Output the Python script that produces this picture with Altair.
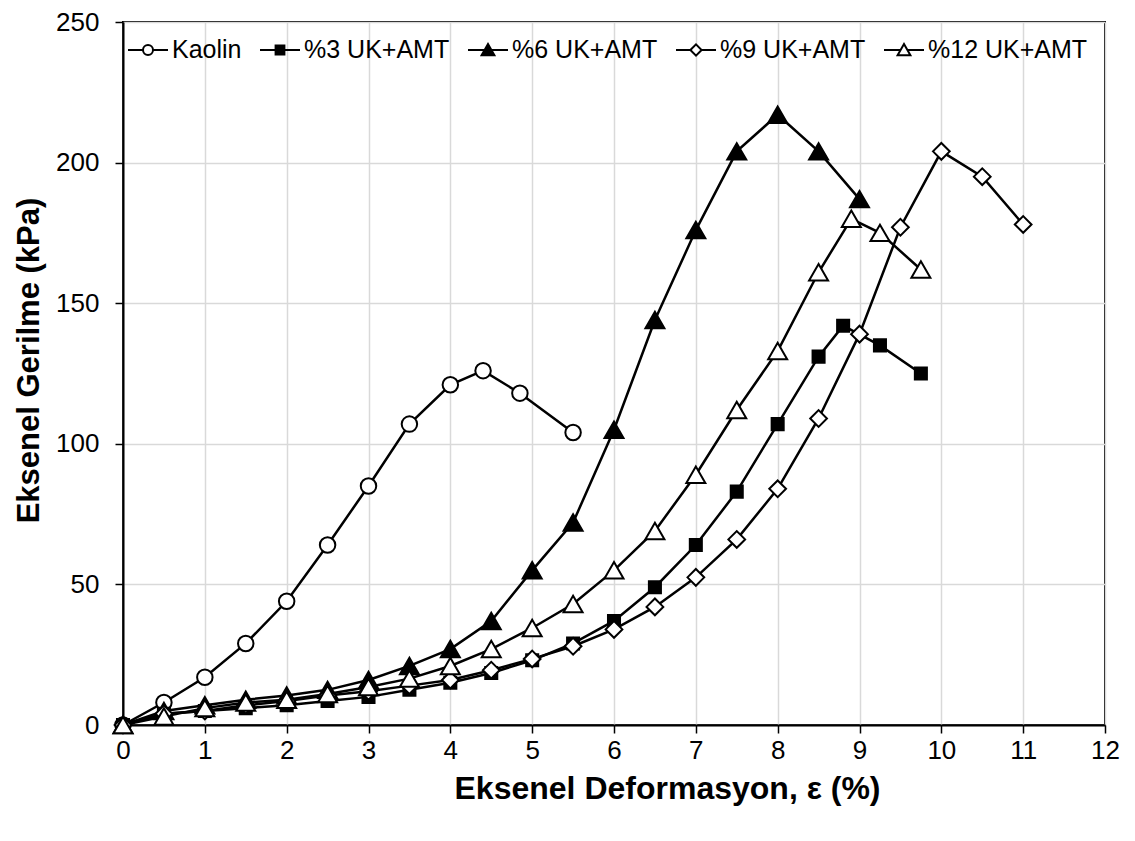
import altair as alt
import pandas as pd

series_names = ["Kaolin", "%3 UK+AMT", "%6 UK+AMT", "%9 UK+AMT", "%12 UK+AMT"]

kaolin_x = [0, 0.5, 1, 1.5, 2, 2.5, 3, 3.5, 4, 4.4, 4.85, 5.5]
kaolin_y = [0, 8, 17, 29, 44, 64, 85, 107, 121, 126, 118, 104]

uk3_x = [0, 0.5, 1, 1.5, 2, 2.5, 3, 3.5, 4, 4.5, 5, 5.5, 6, 6.5, 7, 7.5, 8, 8.5, 8.8, 9.25, 9.75]
uk3_y = [0, 4, 5, 6, 7, 8.5, 10, 12.5, 15, 18.5, 23, 29, 37, 49, 64, 83, 107, 131, 142, 135, 125]

uk6_x = [0, 0.5, 1, 1.5, 2, 2.5, 3, 3.5, 4, 4.5, 5, 5.5, 6, 6.5, 7, 7.5, 8, 8.5, 9]
uk6_y = [0, 5, 7, 9, 10.5, 12.5, 16, 21, 27, 37, 55, 72, 105, 144, 176, 204, 217, 204, 187]

uk9_x = [0, 0.5, 1, 1.5, 2, 2.5, 3, 3.5, 4, 4.5, 5, 5.5, 6, 6.5, 7, 7.5, 8, 8.5, 9, 9.5, 10, 10.5, 11]
uk9_y = [0, 4, 5, 7, 8.5, 10.5, 12, 14, 16, 19.5, 23.5, 28, 34, 42, 52.5, 66, 84, 109, 139, 177, 204, 195, 178]

uk12_x = [0, 0.5, 1, 1.5, 2, 2.5, 3, 3.5, 4, 4.5, 5, 5.5, 6, 6.5, 7, 7.5, 8, 8.5, 8.9, 9.25, 9.75]
uk12_y = [0, 3, 6, 8, 9, 11, 13.5, 16.5, 21, 27, 34.5, 43, 55, 69, 89, 112, 133, 161, 180, 175, 162]

x_ticks = list(range(0, 13))
y_ticks = [0, 50, 100, 150, 200, 250]

rows = []
for name, xs, ys in zip(series_names,
                        [kaolin_x, uk3_x, uk6_x, uk9_x, uk12_x],
                        [kaolin_y, uk3_y, uk6_y, uk9_y, uk12_y]):
    for i, (a, b) in enumerate(zip(xs, ys)):
        rows.append({"series": name, "x": a, "y": b, "i": i})
df = pd.DataFrame(rows)

FONT = "Liberation Sans"

marker_shapes = ["circle", "square", "triangle-up", "diamond", "triangle-up"]
marker_fills = ["white", "black", "black", "white", "white"]
marker_sizes = [240, 145, 360, 280, 360]

# legend symbols: a short line with the marker in its middle
legend_shapes = [
    "M-1,0H-0.25M0.25,0H1M-0.25,0A0.25,0.25 0 1,1 0.25,0A0.25,0.25 0 1,1 -0.25,0Z",
    "M-1,0H-0.22M0.22,0H1M-0.22,-0.22H0.22V0.22H-0.22Z",
    "M-1,0H-0.18M0.18,0H1M-0.32,0.26L0,-0.3L0.32,0.26Z",
    "M-1,0H-0.28M0.28,0H1M-0.28,0L0,-0.28L0.28,0L0,0.28Z",
    "M-1,0H-0.18M0.18,0H1M-0.32,0.26L0,-0.3L0.32,0.26Z",
]

x_enc = alt.X("x:Q", scale=alt.Scale(domain=[0, 12], nice=False),
              axis=alt.Axis(values=x_ticks, title="Eksenel Deformasyon, ε (%)", format="d",
                            titleX=544, titleAlign="center", labelFlush=False))
y_enc = alt.Y("y:Q", scale=alt.Scale(domain=[0, 250], nice=False),
              axis=alt.Axis(values=y_ticks, title="Eksenel Gerilme (kPa)", titleY=338,
                            labelFlush=False))

lines = alt.Chart(df).mark_line(color="black", strokeWidth=2.5).encode(
    x=x_enc, y=y_enc, detail="series:N", order="i:Q"
)

points = alt.Chart(df).mark_point(filled=True, stroke="black", strokeWidth=2, opacity=1).encode(
    x=x_enc, y=y_enc,
    shape=alt.Shape("series:N", scale=alt.Scale(domain=series_names, range=marker_shapes), legend=None),
    fill=alt.Fill("series:N", scale=alt.Scale(domain=series_names, range=marker_fills), legend=None),
    size=alt.Size("series:N", scale=alt.Scale(type="ordinal", domain=series_names, range=marker_sizes),
                  legend=None),
)

legend_layer = alt.Chart(df).transform_filter("false").mark_point(
    filled=True, strokeWidth=2, opacity=1, size=1600
).encode(
    x=x_enc, y=y_enc,
    shape=alt.Shape("lseries:N", scale=alt.Scale(domain=series_names, range=legend_shapes),
                    legend=alt.Legend(title=None)),
    fill=alt.Fill("lseries:N", scale=alt.Scale(domain=series_names, range=marker_fills),
                  legend=alt.Legend(title=None)),
    stroke=alt.Stroke("lseries:N", scale=alt.Scale(domain=series_names, range=["black"] * 5),
                      legend=alt.Legend(title=None)),
).transform_calculate(lseries="datum.series")

chart = alt.layer(lines, points, legend_layer).resolve_scale(
    shape="independent", fill="independent", size="independent", stroke="independent"
).properties(
    width=982, height=703,
    autosize=alt.AutoSizeParams(type="none"),
    padding={"left": 115, "top": 14, "right": 22, "bottom": 100},
).configure_view(
    stroke="black", strokeWidth=2
).configure_axis(
    grid=True, gridColor="#d9d9d9", gridWidth=1.5,
    domainColor="black", domainWidth=2,
    tickColor="black", tickWidth=1.5, tickSize=8,
    labelFont=FONT, labelFontSize=26, labelColor="black",
    titleFont=FONT, titleFontSize=31, titleFontWeight="bold", titleColor="black",
).configure_axisX(
    labelPadding=4, titlePadding=10, titleFontSize=32
).configure_axisY(
    labelPadding=16, titlePadding=10
).configure_legend(
    orient="none", legendX=4, legendY=7, direction="horizontal",
    labelFont=FONT, labelFontSize=25, labelColor="black",
    symbolStrokeWidth=2, symbolSize=1600,
    columnPadding=14, labelOffset=3
)

chart.save("out.html", embed_options={"renderer": "svg", "actions": False})
